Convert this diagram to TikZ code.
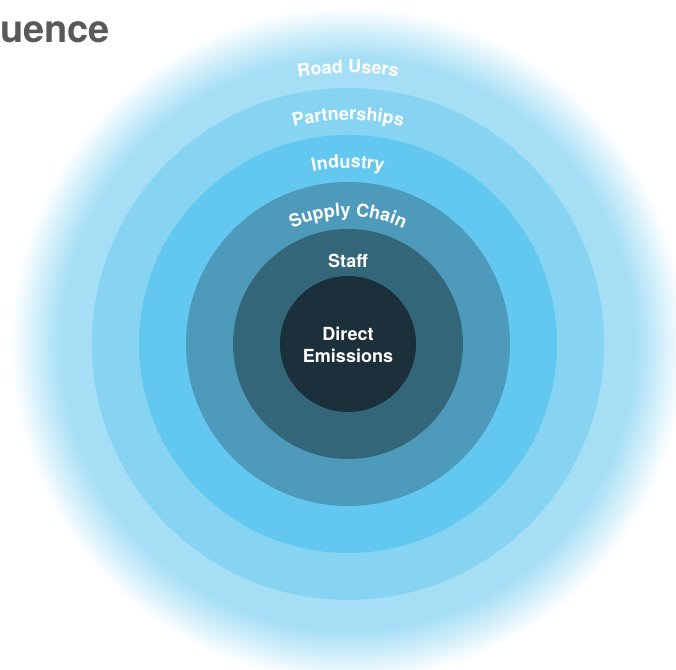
\documentclass[tikz,border=0pt]{standalone}
\usepackage{fontspec}
\setmainfont{TeX Gyre Heros}
\usetikzlibrary{decorations.text}

\definecolor{roadusers}{HTML}{A6DFF5}
\definecolor{partners}{HTML}{86D4F2}
\definecolor{industry}{HTML}{62C8EF}
\definecolor{supply}{HTML}{4D9ABB}
\definecolor{staffring}{HTML}{34667A}
\definecolor{direct}{HTML}{1C303B}
\definecolor{heading}{HTML}{58595B}
\colorlet{roadfade}{roadusers!50!white}
% the path's box spans -25bp..25bp of the shading
\pgfdeclareradialshading{haze}{\pgfpointorigin}{color(0bp)=(roadusers); color(21.3bp)=(roadusers); color(23.2bp)=(roadfade); color(25bp)=(white); color(50bp)=(white)}

\newcommand\ringfont{\fontsize{13.5}{16.5}\selectfont\bfseries}

\begin{document}
\begin{tikzpicture}[x=0.75pt,y=0.75pt]
\tikzstyle{every node}=[text=white, font=\ringfont, inner sep=0pt, align=center]
\tikzstyle{arclabel}=[decorate, decoration={text along path, text align=center, text color=white}]
\clip (0,0) rectangle (676,670);
\coordinate (c) at (348,326);
\shade[shading=haze] (c) circle (337);
\fill[partners] (c) circle (256);
\fill[industry] (c) circle (209);
\fill[supply] (c) circle (162);
\fill[staffring] (c) circle (115);
\fill[direct] (c) circle (68);
\path[arclabel, decoration={text={|\ringfont|Road Users}}]
	([shift={(150:271)}]c) arc[start angle=150, end angle=30, radius=271];
\path[arclabel, decoration={text={|\ringfont|Partnerships}}]
	([shift={(150:224)}]c) arc[start angle=150, end angle=30, radius=224];
\path[arclabel, decoration={text={|\ringfont|Industry}}]
	([shift={(150:176)}]c) arc[start angle=150, end angle=30, radius=176];
\path[arclabel, decoration={text={|\ringfont|Supply Chain}}]
	([shift={(160:128)}]c) arc[start angle=160, end angle=20, radius=128];
\node (staff) at (348,409) {Staff};
\node (direct) at (348,325.5) {Direct\\Emissions};
\node[text=heading, font=\fontsize{28.5}{31}\selectfont\bfseries, anchor=base west] (title) at (0,627) {uence};
\end{tikzpicture}
\end{document}
